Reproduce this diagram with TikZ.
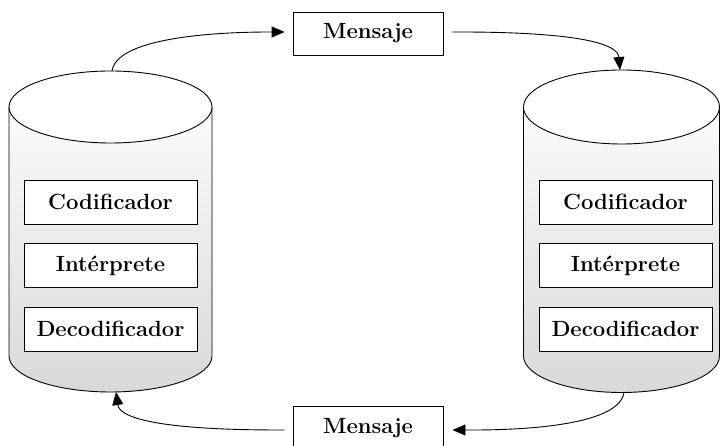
\documentclass[tikz,border=0pt]{standalone}
\usepackage{fontspec}
\usetikzlibrary{arrows.meta}

\tikzset{
  caja/.style={draw,line width=0.9pt,fill=white,minimum width=173pt,minimum height=44pt,
    inner sep=0pt,font=\fontsize{22}{26}\selectfont\bfseries},
  mensaje/.style={caja,minimum width=150pt,minimum height=43pt},
  flecha/.style={line width=0.9pt,-{Triangle[length=13pt,width=11pt]},looseness=0.55},
}

\begin{document}
\begin{tikzpicture}[x=1pt,y=1pt]
    \useasboundingbox (0,0) rectangle (721,446);

    % cilindro izquierdo
    \begin{scope}[line width=0.9pt]
      \shade[top color=gray!3,bottom color=gray!30,draw]
        (9,339) -- (9,90) arc[start angle=180,end angle=360,x radius=101.5,y radius=36]
        -- (212,339) -- cycle;
      \draw[fill=white] (110.5,339) ellipse[x radius=101.5,y radius=36];
    \end{scope}

    % cilindro derecho
    \begin{scope}[line width=0.9pt]
      \shade[top color=gray!3,bottom color=gray!30,draw]
        (523.5,339) -- (523.5,90) arc[start angle=180,end angle=360,x radius=98,y radius=36.5]
        -- (719.5,339) -- cycle;
      \draw[fill=white] (621.5,339) ellipse[x radius=98,y radius=37];
    \end{scope}

    \coordinate (lTop) at (112,375);
    \coordinate (lBot) at (116,54);
    \coordinate (rTop) at (620,376);
    \coordinate (rBot) at (624,53.5);

    \node[caja] (cod1) at (110.5,244)   {Codificador};
    \node[caja] (int1) at (110.5,180.5) {Intérprete};
    \node[caja] (dec1) at (110.5,117)   {Decodificador};

    \node[caja] (cod2) at (625.5,244)   {Codificador};
    \node[caja] (int2) at (625.5,180.5) {Intérprete};
    \node[caja] (dec2) at (625.5,117)   {Decodificador};

    \node[mensaje] (msgA) at (368,412.5) {Mensaje};
    \node[mensaje] (msgB) at (368,18)    {Mensaje};

    \draw[flecha,shorten >=8pt] (lTop) to[out=82,in=180] (msgA.west|-0,414);
    \draw[flecha,shorten <=9pt] (msgA.east|-0,414) to[out=0,in=95] (rTop);
    \draw[flecha,shorten >=9pt] (rBot) to[out=-98,in=0] (msgB.east|-0,16);
    \draw[flecha,shorten <=8pt] (msgB.west|-0,16) to[out=180,in=-82] (lBot);
\end{tikzpicture}
\end{document}
